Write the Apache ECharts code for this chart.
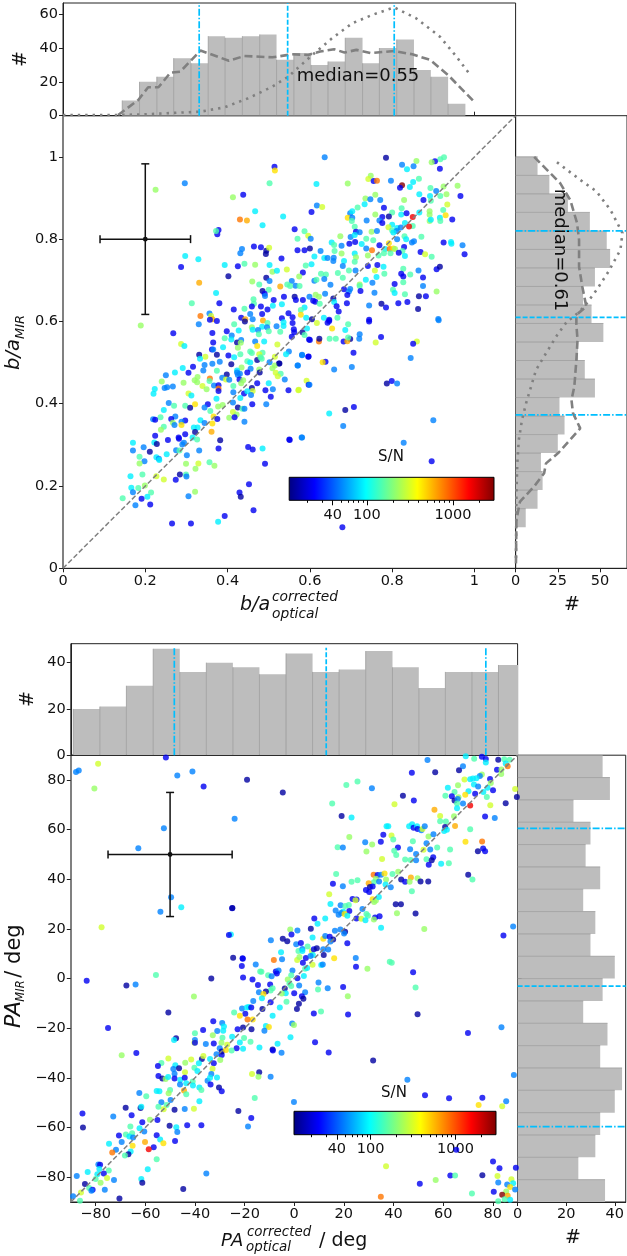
<!DOCTYPE html>
<html>
<head>
<meta charset="utf-8">
<style>
  html, body { margin: 0; padding: 0; background: #fff; }
  #chart { width: 627px; height: 1256px; }
</style>
<script src="https://cdn.jsdelivr.net/npm/echarts@6/dist/echarts.min.js"></script>
</head>
<body>
<div id="chart"></div>
<script>
// axis ratio panel: [b/a optical, b/a MIR, S/N]
const ratioPoints = [
[.636,.999,50],[.785,.998,15],[.859,.990,220],[.926,.999,150],[.917,.994,150],[.904,.989,23],[.896,.987,220],[.824,.981,50],[.852,.977,50],[.836,.970,90],
[.916,.971,23],[.748,.954,220],[.742,.946,300],[.755,.941,23],[.763,.942,800],[.797,.942,50],[.865,.947,150],[.851,.939,90],[.616,.934,90],[.692,.935,220],
[.824,.931,2900],[.819,.925,23],[.843,.927,90],[.959,.930,220],[.925,.928,220],[.893,.924,150],[.866,.909,90],[.892,.905,90],[.907,.917,50],[.917,.905,150],
[.932,.909,220],[.966,.905,23],[.759,.908,220],[.735,.899,220],[.747,.897,50],[.771,.895,50],[.829,.895,220],[.876,.895,23],[.894,.893,150],[.733,.885,90],
[.716,.877,150],[.617,.882,50],[.630,.878,300],[.604,.866,23],[.780,.876,23],[.823,.875,150],[.934,.884,300],[.924,.871,150],[.891,.868,220],[.698,.863,50],
[.703,.868,90],[.800,.865,150],[.822,.860,90],[.835,.863,23],[.866,.865,90],[.891,.859,220],[.930,.858,450],[.535,.855,90],[.692,.852,450],[.703,.852,50],
[.759,.860,220],[.792,.855,15],[.776,.854,23],[.850,.854,1600],[.916,.852,90],[.946,.848,23],[.738,.845,50],[.769,.845,50],[.776,.839,23],[.702,.844,150],
[.831,.839,90],[.800,.835,90],[.891,.844,220],[.917,.844,150],[.894,.847,90],[.850,.832,150],[.841,.831,1600],[.709,.830,150],[.563,.824,23],[.587,.819,150],
[.596,.808,300],[.712,.818,23],[.721,.817,50],[.750,.818,220],[.763,.820,50],[.791,.829,300],[.800,.821,150],[.812,.827,90],[.821,.828,50],[.811,.820,50],
[.803,.816,90],[.674,.807,220],[.699,.805,50],[.709,.810,90],[.737,.801,150],[.754,.797,150],[.830,.807,150],[.871,.806,150],[.812,.800,50],[.834,.800,90],
[.602,.801,50],[.570,.801,150],[.653,.792,90],[.659,.786,150],[.677,.784,50],[.696,.789,23],[.710,.793,23],[.726,.788,90],[.769,.785,23],[.792,.790,450],
[.848,.792,50],[.853,.795,50],[.925,.792,23],[.943,.793,90],[.944,.789,90],[.971,.785,50],[.829,.781,23],[.751,.773,800],[.737,.777,50],[.783,.776,90],
[.794,.776,800],[.803,.777,450],[.807,.776,220],[.825,.771,150],[.600,.777,15],[.570,.773,23],[.587,.773,23],[.626,.771,50],[.660,.771,150],[.780,.766,150],
[.796,.766,150],[.816,.767,23],[.869,.769,23],[.709,.765,90],[.677,.765,220],[.741,.760,220],[.767,.760,150],[.831,.759,90],[.880,.763,300],[.896,.757,150],
[.976,.763,23],[.611,.758,90],[.635,.754,90],[.643,.754,50],[.658,.755,50],[.712,.756,220],[.531,.753,23],[.683,.747,90],[.709,.745,150],[.657,.747,50],
[.590,.736,150],[.604,.739,90],[.680,.735,50],[.741,.735,23],[.764,.737,23],[.779,.733,90],[.544,.726,300],[.583,.719,23],[.695,.724,150],[.711,.724,50],
[.758,.724,300],[.827,.728,150],[.864,.724,50],[.908,.727,23],[.916,.733,15],[.627,.716,150],[.639,.714,150],[.668,.718,150],[.574,.709,220],[.680,.706,150],
[.781,.716,150],[.822,.716,23],[.827,.709,23],[.844,.714,150],[.875,.707,23],[.762,.708,90],[.556,.698,50],[.611,.699,50],[.616,.701,150],[.635,.703,50],
[.736,.701,90],[.752,.694,50],[.806,.691,23],[.827,.695,150],[.565,.687,50],[.545,.690,150],[.552,.686,150],[.575,.686,150],[.650,.689,50],[.721,.690,220],
[.721,.686,150],[.875,.686,50],[.528,.685,600],[.683,.678,23],[.698,.679,50],[.695,.673,50],[.802,.677,150],[.723,.674,23],[.757,.670,50],[.806,.669,90],
[.908,.673,220],[.637,.667,50],[.614,.665,220],[.622,.660,220],[.599,.660,50],[.537,.660,23],[.563,.660,15],[.566,.652,23],[.583,.652,23],[.691,.664,23],
[.657,.656,15],[.831,.666,150],[.865,.661,15],[.882,.661,23],[.608,.650,23],[.613,.648,23],[.624,.643,150],[.659,.647,90],[.690,.644,23],[.744,.639,50],
[.774,.643,15],[.785,.634,23],[.815,.644,23],[.837,.647,23],[.863,.630,15],[.532,.642,90],[.587,.634,90],[.665,.637,23],[.578,.628,150],[.670,.624,23],
[.548,.620,23],[.578,.616,450],[.532,.608,23],[.558,.610,23],[.591,.609,90],[.605,.605,15],[.634,.609,90],[.667,.609,150],[.647,.604,23],[.744,.604,23],
[.912,.606,50],[.514,.976,23],[.515,.967,450],[.502,.936,150],[.296,.936,50],[.225,.920,220],[.438,.908,23],[.413,.902,220],[.467,.868,90],[.430,.848,800],
[.447,.845,600],[.485,.834,90],[.378,.822,23],[.375,.812,23],[.372,.820,150],[.464,.782,23],[.481,.780,23],[.494,.772,15],[.493,.764,15],[.501,.779,300],
[.435,.776,50],[.431,.766,50],[.297,.759,90],[.329,.751,90],[.287,.732,23],[.393,.737,90],[.425,.734,23],[.441,.740,150],[.467,.738,220],[.502,.737,90],
[.509,.721,220],[.520,.723,90],[.402,.710,15],[.494,.706,15],[.331,.694,600],[.460,.697,220],[.477,.690,150],[.502,.698,50],[.485,.674,15],[.500,.677,150],
[.490,.667,23],[.491,.662,50],[.372,.669,90],[.313,.644,150],[.380,.644,23],[.463,.654,150],[.464,.643,150],[.441,.631,150],[.415,.629,23],[.481,.636,23],
[.512,.652,23],[.510,.638,90],[.497,.629,23],[.455,.618,50],[.484,.618,23],[.459,.636,23],[.334,.613,800],[.356,.619,50],[.360,.613,300],[.363,.605,600],
[.433,.609,23],[.443,.605,600],[.461,.605,50],[.189,.590,220],[.357,.604,23],[.374,.601,23],[.486,.602,600],[.442,.600,15],[.416,.593,150],[.330,.593,50],
[.536,.598,90],[.558,.596,23],[.497,.596,150],[.484,.587,90],[.496,.586,50],[.519,.588,50],[.459,.586,220],[.461,.580,90],[.474,.579,50],[.500,.576,150],
[.528,.575,150],[.427,.578,90],[.398,.576,23],[.268,.571,23],[.363,.572,23],[.561,.581,23],[.562,.574,23],[.582,.574,15],[.593,.583,90],[.587,.567,150],
[.536,.589,90],[.476,.569,150],[.556,.563,23],[.410,.566,50],[.393,.559,150],[.409,.556,90],[.433,.555,50],[.598,.556,23],[.489,.551,90],[.467,.551,50],
[.365,.549,23],[.423,.549,15],[.432,.548,220],[.287,.545,300],[.295,.540,90],[.472,.540,450],[.521,.544,300],[.425,.536,220],[.389,.537,90],[.362,.532,23],
[.365,.532,50],[.455,.527,150],[.459,.523,150],[.485,.524,150],[.549,.527,50],[.542,.520,90],[.331,.519,15],[.374,.519,15],[.402,.517,23],[.431,.520,150],
[.477,.520,300],[.581,.518,50],[.596,.514,23],[.346,.514,300],[.416,.513,90],[.333,.509,90],[.472,.506,15],[.480,.513,150],[.483,.509,150],[.515,.514,300],
[.448,.503,150],[.455,.500,90],[.502,.501,50],[.525,.498,15],[.344,.494,50],[.363,.497,50],[.381,.502,50],[.409,.496,15],[.570,.493,50],[.316,.490,23],
[.291,.487,90],[.515,.493,220],[.434,.488,220],[.456,.485,50],[.509,.486,220],[.341,.481,50],[.374,.480,150],[.423,.481,90],[.477,.483,220],[.305,.475,23],
[.272,.476,90],[.423,.476,50],[.430,.473,50],[.448,.476,23],[.478,.476,15],[.250,.469,50],[.398,.471,15],[.387,.463,50],[.425,.470,50],[.517,.475,300],
[.529,.473,150],[.522,.467,300],[.327,.465,220],[.357,.461,800],[.396,.459,300],[.404,.458,50],[.429,.459,23],[.320,.457,220],[.539,.459,50],[.240,.454,220],
[.326,.452,220],[.293,.451,220],[.356,.455,150],[.438,.457,220],[.433,.450,220],[.472,.450,23],[.500,.450,90],[.592,.456,300],[.597,.446,23],[.223,.436,90],
[.247,.438,50],[.253,.440,50],[.267,.442,50],[.339,.443,300],[.349,.435,220],[.367,.444,50],[.378,.445,23],[.378,.437,800],[.378,.431,23],[.414,.443,150],
[.459,.438,15],[.461,.431,300],[.492,.433,23],[.510,.435,50],[.548,.433,23],[.572,.433,300],[.220,.424,90],[.305,.425,300],[.312,.420,90],[.414,.428,50],
[.440,.425,23],[.448,.430,90],[.457,.421,50],[.505,.417,23],[.373,.412,90],[.431,.414,90],[.257,.402,50],[.321,.399,450],[.352,.399,23],[.413,.403,50],
[.460,.399,23],[.494,.399,50],[.270,.395,150],[.297,.395,150],[.309,.390,15],[.344,.391,50],[.377,.393,220],[.388,.397,220],[.425,.391,15],[.436,.388,150],
[.441,.388,50],[.245,.385,90],[.358,.382,150],[.413,.380,300],[.422,.374,220],[.273,.369,50],[.263,.363,23],[.237,.367,150],[.366,.369,450],[.404,.366,220],
[.417,.367,23],[.219,.362,50],[.224,.361,23],[.297,.359,23],[.288,.356,50],[.334,.360,90],[.375,.363,23],[.267,.354,220],[.271,.348,50],[.288,.348,450],
[.344,.353,50],[.363,.352,450],[.441,.356,50],[.245,.344,150],[.318,.342,90],[.327,.342,90],[.238,.337,220],[.361,.332,600],[.321,.331,15],[.224,.322,23],
[.297,.326,23],[.281,.318,23],[.282,.315,23],[.170,.305,90],[.222,.306,90],[.228,.302,15],[.255,.312,23],[.315,.318,90],[.326,.313,150],[.382,.311,15],
[.294,.305,50],[.290,.301,50],[.550,.313,23],[.580,.318,50],[.170,.286,50],[.196,.294,50],[.211,.283,15],[.275,.287,50],[.283,.286,150],[.331,.286,50],
[.378,.291,23],[.450,.295,23],[.461,.289,23],[.485,.291,90],[.252,.277,90],[.301,.275,50],[.186,.271,150],[.227,.270,90],[.233,.266,50],[.234,.263,90],
[.198,.260,50],[.186,.255,220],[.299,.254,220],[.329,.255,300],[.356,.258,150],[.368,.249,220],[.491,.254,23],[.322,.242,220],[.164,.224,90],[.193,.228,150],
[.227,.224,300],[.245,.216,300],[.284,.228,15],[.274,.215,23],[.299,.228,150],[.300,.223,50],[.199,.201,220],[.452,.204,23],[.429,.184,23],[.432,.174,15],
[.305,.175,50],[.321,.186,220],[.145,.170,150],[.166,.196,90],[.183,.195,150],[.170,.185,50],[.214,.184,150],[.205,.174,90],[.191,.169,23],[.176,.153,50],
[.212,.155,23],[.463,.141,23],[.393,.127,23],[.377,.113,90],[.265,.109,23],[.311,.109,23],[.679,.100,23],[.896,.260,23],[.828,.305,50],[.900,.360,50],
[.845,.511,50],[.787,.449,15],[.799,.455,23],[.812,.449,50],[.647,.376,90],[.686,.385,15],[.707,.392,23],[.681,.346,50],[.551,.312,23],[.581,.318,50],
[.659,.483,50],[.702,.489,50],[.706,.524,23],[.638,.502,23],[.631,.501,450],[.599,.446,50],[.573,.434,300],[.571,.493,50],[.526,.498,15],[.597,.515,23],
[.581,.519,50],[.773,.562,23],[.720,.558,50],[.721,.569,50],[.698,.557,15],[.682,.551,23],[.691,.552,600],[.622,.551,800],[.623,.558,15],[.648,.558,150],
[.663,.558,150],[.693,.561,150],[.600,.555,23],[.760,.549,300],[.860,.551,300],[.851,.546,23],[.744,.600,23],[.913,.603,50],[.686,.579,90],[.654,.583,450],
[.693,.593,150],[.643,.597,23],[.647,.601,23],[.617,.596,300]
];

// position angle panel: [PA optical, PA MIR, S/N]
const anglePoints = [
[53.7,88.1,50],[69.1,89.6,90],[72.5,88.6,150],[75.6,89.4,23],[77.2,88.5,23],[77.2,87.1,90],[82.2,88.2,15],[84.6,88.4,150],[86.8,88.2,150],[85.2,86.7,90],
[86,85.5,800],[68,85.5,50],[66.4,83.9,15],[47.4,82.9,23],[56.8,83.1,15],[81.7,84.1,23],[83.5,84.2,220],[75.6,82.2,220],[74.8,81.6,50],[83.4,82.4,220],
[68.6,80.2,300],[70.9,80.3,90],[72,80.6,90],[73.4,80.7,90],[78.9,80.4,23],[25.5,79.4,150],[21,78,150],[66,77.9,220],[72.4,78.2,90],[79.2,78.8,220],
[74.1,77.4,50],[77.9,76.9,90],[31.3,76.7,50],[61.9,76.9,90],[64.6,75.2,150],[70.2,75.5,90],[80.1,75.9,23],[89,76.4,300],[76.2,75.2,90],[43.8,73.7,15],
[60.9,73.7,150],[63.5,73.5,23],[68.9,74.1,450],[72.9,74.5,23],[66.2,73.1,220],[64.6,71.8,15],[65.9,72.4,50],[77.6,73.2,150],[48.2,71.7,23],[89.7,73.2,15],
[15.3,70.5,150],[40.4,70.2,300],[65.6,70.5,150],[68,70.5,50],[70.9,69.7,1600],[79,69.8,300],[85.2,70.6,15],[65.6,68.6,90],[56.5,68,600],[19.1,65.5,15],
[23.1,64.9,90],[58.8,65.5,300],[64.4,65.4,220],[76.9,65.3,23],[80.8,64.7,50],[58.8,63.4,150],[61.1,63.3,150],[37.2,61.4,90],[37.9,61.4,90],[46.3,61.4,90],
[47.5,62.2,90],[48.1,60.8,23],[49.5,61.4,90],[49.7,60.3,23],[51.2,59.8,50],[51.7,60.3,300],[52.6,61.4,50],[60.8,61.1,15],[61.5,60,90],[60.4,59.5,90],
[64.8,61.5,600],[70.9,60.2,150],[35.9,58,23],[39.2,57.6,300],[22.2,57,220],[39.9,56,150],[54.1,57.2,220],[56.1,58.2,50],[34.9,55.1,23],[28.6,54.9,50],
[47.8,55.3,150],[31.4,54,220],[53.3,54.5,50],[69,55.1,450],[75.7,55.2,800],[17.5,52.9,150],[19.6,52.8,50],[41.8,52.8,23],[57.6,52.8,150],[46.7,52.1,50],
[54.8,52,50],[52.1,51.9,300],[62.8,52,150],[76.1,52.4,23],[74,51.3,15],[76.9,51.3,23],[29.1,51.2,220],[40.3,51.5,150],[41.1,49.8,150],[49.1,50.2,50],
[35.4,48.2,300],[56,48.9,23],[44.7,48,150],[46.9,47.8,150],[49.1,47.7,50],[53.3,48.1,150],[55.4,47.7,15],[59.2,46.3,90],[62.3,46.5,150],[54.2,45.9,23],
[16.9,42.1,150],[41.9,43,220],[32,41.8,800],[33.6,41.7,23],[35,41.8,50],[36.4,42.3,450],[39.6,42.1,150],[70.1,41.8,15],[47,40.7,600],[43.1,39.9,15],
[44.7,39,23],[49.7,40.4,220],[37,39.9,220],[32.9,40.2,220],[32.1,38.8,150],[34.2,39.1,50],[30,38.4,600],[23.1,39,150],[25.5,39.6,150],[15.6,38.2,23],
[19.6,37.2,50],[46.5,39,220],[50.9,39.1,15],[54,39.1,15],[71.8,39.9,150],[36.8,37.9,90],[38.9,36.8,50],[30.5,36.9,15],[31.6,37.1,23],[28.9,35.7,23],
[30.2,34.9,23],[47.4,35.2,150],[14.1,34,300],[23.5,32.1,23],[25.1,31.9,23],[24.7,31.6,300],[31.6,32,450],[32.2,30.9,220],[32.9,31.5,220],[34.1,32.9,90],
[14.6,30.1,90],[18.7,29.6,50],[22,29.7,150],[20.6,29.2,150],[40.9,30,15],[43,30,15],[27.5,28,50],[16.7,27.4,50],[19.7,27,90],[22.2,27.2,23],
[18.9,26.4,50],[17.9,25.7,50],[20.3,26,450],[21.4,25.3,90],[29.1,26,150],[29.7,25.3,150],[41.4,26.3,220],[48.9,26.2,15],[8.1,24.2,23],[12.5,24.2,90],
[25.1,24.2,23],[27,24.1,300],[28.7,23.5,90],[32.6,24.6,23],[34.4,25.1,23],[32.1,23.8,220],[9.4,22.1,90],
[-25,28.3,23],[-25.5,17.8,90],[-26.3,17.6,23],[-1.6,19.8,220],[1.3,19.4,50],[-9.4,15.5,50],[-4.6,16.1,15],[-2.8,15,15],[-1.1,17.8,23],[6.7,20.1,15],
[7.4,16.6,90],[11.7,16.1,450],[12.5,17.2,50],[14.3,16.9,23],[15.7,15.8,15],[16.4,19.3,50],[18.6,19.8,50],[20.5,18.9,15],[20.1,18.2,50],[35,20.5,90],
[21.4,14.2,23],[.8,13.8,50],[2.7,14.3,23],[14.6,14.9,50],[-5.3,10.6,90],[1.7,11.1,150],[3.3,11.9,50],[5.4,12.9,150],[3.3,11.1,90],[7.1,11.1,300],
[7.9,11.8,23],[9.1,12.2,15],[11.7,11.8,50],[13.7,11.7,50],[11.9,9.5,15],[7.5,9.5,90],[-24.6,8.4,15],[-20.8,8.2,23],[-8.2,7.5,800],[-4.9,7.8,50],
[1.2,7.5,300],[2.1,8.7,220],[4.7,8.3,23],[3.5,6.4,23],[6.6,9.1,50],[16.1,8.2,450],[24.8,8.3,50],[24.9,4.8,23],[29.5,4,220],[38.5,6.8,150],
[39.3,6.4,150],[-21.1,5.1,23],[-15.5,5.7,50],[7.4,5.6,300],[10.9,5.5,90],[11.5,5.7,50],[-13.7,2.9,150],[-13.2,2.8,150],[-7.4,2.9,23],[-6.3,3.3,50],
[-7,2.1,23],[-.7,3.3,50],[4.4,4,150],[5.2,4.3,90],[-10.5,1.3,150],[-9.1,.9,50],[-1.2,1.3,150],[3.9,1,90],[-33.4,0,15],[-20.6,.4,23],
[-16.8,-.4,23],[1.3,.1,23],[-2.6,-.4,220],[-14.6,-2.6,23],[-9.7,-2.4,23],[-1.9,-2,150],[-1.2,-3,150],[9.8,-1.6,50],[2,-2.8,50],[-8.7,-3.9,150],
[-9.5,-4.8,150],[-11.4,-5.2,15],[-14.2,-5.5,50],[-12.4,-6.2,450],[-3.8,-4,15],[-3.4,-5.9,90],[-5,-6,220],[9.6,-4.4,150],[13.5,-3.9,50],[19.7,-3.4,23],
[0,-5.9,23],[4.4,-5.5,50],[3.1,-7.1,23],[3.7,-8.1,15],[-13,-7.9,90],[-16.5,-9,50],[21.6,-7.1,220],[-3.1,-9.3,150],[1.9,-10.1,15],[-9.5,-9.5,23],
[-12.8,-12.2,15],[-21,-12,50],[-19.1,-11.6,90],[-18.3,-11.4,90],[-17.3,-11.6,23],[-5.8,-11.6,90],[1.1,-12.2,15],[10.8,-13.3,150],[7.9,-14.1,23],[21.7,-14.5,23],
[-24.2,-13.7,150],[-19.7,-14.2,23],[-21.9,-15,450],[-16.7,-16.5,450],[-18.8,-16.5,800],[-8.7,-15,90],[-32.6,-17.2,23],[-29,-17.9,50],[-.8,-18.1,50],[-.1,-18.7,220],
[-36.7,-20.7,23],[-31,-21.1,50],[-28.6,-21,90],[-28.3,-19.3,90],[-20.6,-19.7,15],[-17.2,-20.4,15],[-22.8,-20.4,23],[-11.4,-19.1,90],[-10.2,-19.5,450],[-12,-21,50],
[-32.8,-22.8,220],[-25,-23.4,90],[-28.9,-23.8,150],[-20.2,-23.9,150],[-1.5,-23.6,90],[8.4,-25.6,23],[-35.6,-26.3,50],[-32.4,-26.1,23],[-29.3,-25.8,220],[-27,-26.6,300],
[-21.9,-25.7,90],[-17.6,-25.4,150],[-6.7,-26.2,90],[-14,-27.8,90],[-23.2,-28.1,23],[-20.6,-28.3,90],[-30,-28.1,50],[-8.7,-28.6,15],
[-87.9,83.2,50],[-86.8,83.8,50],[-79,86.6,300],[-80.5,76.6,220],[-51.7,89.1,23],[-47.1,81.8,50],[-41,83.4,50],[-36.5,77.4,23],[-19,80.1,15],[-4.6,75,15],
[-24,64.4,50],[-52.5,60.6,50],[-62.8,52.5,50],[-49.6,32.8,50],[-53.9,26.9,50],[-45.5,28.7,90],[-24.9,28.4,15],[-77.6,20.7,300],[88.2,21,50],[84.3,17.4,23],[52.4,20,220],
[47.9,2.6,23],[48.9,-3.6,150],[49.7,-14.4,15],[70,-21.9,23],[83.5,-19.6,50],[88.5,-38.8,50],[45.6,-40.8,50],[52.7,-47,23],[62.4,-48.2,23],[75.8,-48,23],
[74.3,-50.9,450],[83.8,-51.4,300],[85.4,-49.4,50],[65.3,-69,23],[80.1,-73.7,23],[82.7,-76.4,23],[89.3,-76.2,23],[81.9,-79.5,300],[87.5,-80.8,300],[82.2,-82.1,50],
[85.8,-83,50],[88.2,-82.4,90],[87,-84,450],[89,-85,50],[80.4,-85.9,23],[85.4,-85.8,220],[83.8,-87.1,2900],[86,-87.5,600],[82.2,-89.7,150],[84.8,-88.9,150],
[87,-89.1,90],[75.8,-79.2,15],[62.9,-79.3,23],[64.8,-79.3,150],[57,-81.1,220],[50.6,-82.6,23],[71.6,-86.6,150],[37,-75.6,300],[34.9,-87.9,800],[31.8,-33,15],
[-.1,-49.7,50],[-15.9,-48.1,150],[-22.5,-53.3,15],[-17.3,-56.2,23],[-18.6,-59.6,50],[13.9,-29.8,23],[-5.1,-29.9,50],[-8.6,-29,23],[-9.5,-39.5,50],[-14.1,-37.7,15],
[-17,-38.4,300],[-14.4,-39.5,220],[-83.6,-.9,23],[-67.6,-2.8,15],[-63.9,-2.4,50],[-55.7,1.5,150],[-50.7,-13.7,15],[-75,-19.9,23],[-40.4,-7.2,220],[-20.7,8,23],
[-47.6,-24,15],[-48.4,-24.7,90],[-40,-22,150],[-40,-24.7,50],[-40.2,-25.8,300],[-40,-25.8,23],[-69.5,-30.9,220],[-63.6,-30,23],[-50.7,-32.2,300],[-53.5,-34,150],
[-54.9,-35.2,23],[-47.9,-34.9,90],[-48.7,-36.4,50],[-46.4,-36.1,15],[-43.9,-33.9,220],[-41.5,-32.6,300],[-37.2,-32.4,15],[-36.6,-31.2,300],[-33.9,-32.4,90],[-31.3,-30.5,50],
[-29.2,-30.8,23],[-29.2,-29.4,15],[-27.5,-28.8,450],[-25.2,-29,150],[-29.8,-32.8,220],[-32.4,-34.1,23],[-38.4,-34.1,90],[-40.2,-35.9,150],[-44,-37.7,300],[-39,-37.2,90],
[-32.9,-36.3,300],[-54.7,-39.2,23],[-53.1,-40.2,15],[-51.8,-40.4,220],[-50.8,-39.6,90],[-48.2,-38.3,50],[-48.2,-40.2,23],[-45.9,-40.8,90],[-44.1,-39.9,23],[-40.9,-41.5,150],
[-43.5,-42.2,90],[-46,-42.7,50],[-40.8,-43.1,90],[-34.9,-41.2,50],[-33.4,-38.4,50],[-33.9,-39.9,90],[-31.1,-39.8,90],[-33.7,-42.7,23],[-38.2,-43.9,90],[-37.4,-44.9,150],
[-30.3,-43.9,15],[-29.2,-45.4,23],[-62.4,-46.1,50],[-55.4,-45.3,90],[-54.3,-45.4,90],[-50,-44.9,150],[-50.6,-46.2,220],[-44.4,-45.1,600],[-43.5,-46.6,150],[-59.6,-47.4,150],
[-49.8,-48.9,50],[-53.5,-49.8,50],[-38.2,-49.4,90],[-54.7,-51.6,150],[-67.9,-52,15],[-61.9,-52.1,15],[-61.6,-51.6,90],[-51.4,-50.9,150],[-52.6,-52.6,300],[-48.2,-52.8,15],
[-44.1,-52.5,50],[-40.4,-52.4,300],[-85.3,-54.3,23],[-72.9,-55.6,50],[-65.5,-55.1,23],[-61.2,-57.9,23],[-58.1,-56.9,220],[-55.1,-57,23],[-85.1,-60,15],[-66,-59.6,150],
[-62.3,-60.3,90],[-60.4,-61.6,50],[-50.2,-59.3,15],[-47.5,-59.9,90],[-47.1,-61.8,50],[-43.1,-59.1,23],[-37.4,-59.1,23],[-70.6,-63.2,23],[-67.8,-62.8,150],[-65.3,-62.3,150],
[-66.4,-63.6,90],[-64.9,-64,50],[-55.4,-63.1,23],[-54,-64.8,90],[-48,-65.4,23],[-60.1,-65.8,600],[-74.6,-66.5,90],[-69.5,-65.8,50],[-65.1,-67.3,450],[-52.7,-66.3,450],
[-56.6,-67.9,23],[-58.6,-68.7,1600],[-71.8,-68.9,50],[-73.3,-70.1,800],[-65.9,-69.7,90],[-66.8,-70.8,15],[-68.2,-71.3,150],[-55.4,-72.8,150],[-78.9,-74.9,50],[-78.2,-75,23],
[-78.5,-76.7,90],[-59,-76.8,90],[-74.7,-77.3,150],[-83.2,-77.9,90],[-35.4,-78.5,50],[-87.6,-79.5,50],[-79.3,-78.8,90],[-76.7,-78.5,23],[-72.6,-81.1,50],[-75.4,-80.3,300],
[-80,-80.7,150],[-78,-82.2,220],[-61.6,-80.7,90],[-61.2,-82.2,15],[-84.3,-82.7,15],[-82.6,-84.4,150],[-81.2,-85.1,23],[-81.7,-85.5,50],[-76.3,-85.1,50],[-44.7,-84.8,15],
[-85.9,-86.2,300],[-89.1,-87.7,50],[-70.4,-88.6,15],[-86.3,-89.5,150]
];

// histograms: bin edges plus counts
const ratioTopEdges = [.144,.186,.228,.269,.311,.353,.394,.436,.478,.519,.561,.603,.644,.686,.728,.769,.811,.853,.894,.936,.978];
const ratioTopCounts = [9,20,23,34,31,47,46,47,48,33,37,30,32,46,31,40,45,27,23,7];
const ratioSideEdges = [1,.955,.91,.865,.82,.775,.73,.685,.64,.595,.55,.505,.46,.415,.37,.325,.28,.235,.19,.145,.1];
const ratioSideCounts = [13,20,31,44,54,56,47,40,45,52,37,41,47,26,29,25,15,16,13,6];
const angleTopEdges = [-89,-78.3,-67.6,-56.8,-46.1,-35.4,-24.7,-14,-3.3,7.4,18.1,28.8,39.6,50.2,60.9,71.6,82.3,93];
const angleTopCounts = [20,21,30,46,36,40,38,35,44,36,37,45,38,29,36,36,39];
const angleSideEdges = [90,81,72,63,54,45,36,27,18,9,0,-9,-18,-27,-36,-45,-54,-63,-72,-81,-90];
const angleSideCounts = [35,38,23,30,28,34,27,32,30,40,35,27,37,34,43,40,34,32,25,36];

// model curves over the b/a histograms
const topDashed = [[.134,.4],[.183,9.3],[.207,16.8],[.232,16.8],[.261,25.4],[.285,26],[.334,38.5],[.403,32.5],[.441,35.3],[.509,34.5],[.557,36.3],[.596,35.9],[.625,37.9],[.659,39.3],[.684,37.3],[.713,38.9],[.747,37],[.805,38.2],[.849,36.3],[.892,33],[.936,24],[.999,8.3]];
const topDotted = [[0,.4],[.129,.4],[.197,.8],[.334,2.4],[.392,4.9],[.45,10.3],[.509,17.2],[.547,23],[.606,35.9],[.654,45.8],[.703,54.6],[.752,59.6],[.805,64],[.858,57.6],[.916,46.7],[.956,35],[.99,24]];
const sideDashed = [[11,1],[26.4,.936],[32.4,.895],[36.4,.839],[37.6,.798],[37.6,.733],[39.5,.685],[41.9,.636],[36,.616],[36,.592],[36.7,.555],[36,.506],[34.8,.442],[33.1,.409],[34,.377],[38.3,.34],[25.2,.28],[18,.255],[16.9,.231],[11,.199],[2.6,.162],[.5,.118],[.2,.012]];
const sideDotted = [[24.5,.987],[38.3,.944],[47.9,.916],[56.2,.871],[63.3,.815],[62.1,.774],[55,.721],[47.9,.676],[40.7,.636],[33.6,.608],[31.2,.604],[24,.563],[16.9,.515],[12.1,.482],[8.6,.434],[6.2,.401],[3.8,.361],[1.9,.312],[1,.255],[.5,.182],[.2,.012]];

// percentile and median markers [value, line type]
const ratioTopMarks = [[.331,'dd'],[.546,'d'],[.805,'dd']];
const ratioSideMarks = [[.82,'dd'],[.61,'d'],[.373,'dd']];
const angleTopMarks = [[-48.3,'dd'],[12.9,'d'],[77.2,'dd']];
const angleSideMarks = [[60.5,'dd'],[-3,'d'],[-59.6,'dd']];

// typical error crosses [x, y, xerr, yerr]
const ratioError = [.2, .8, .11, .183];
const angleError = [-50, 50, 25, 25];

const ratioTicks = [0, .2, .4, .6, .8, 1];
const angleTicks = [-80, -60, -40, -20, 0, 20, 40, 60, 80];
const snMajorTicks = [40, 100, 1000];
const snMinorTicks = [20, 30, 50, 60, 70, 80, 90, 200, 300, 400, 500, 600, 700, 800, 900, 2000];
const jetColors = ['#00007f', '#0000ff', '#007fff', '#00ffff', '#7fff7f', '#ffff00', '#ff7f00', '#ff0000', '#7f0000'];
const SN_MIN = 12.5, SN_MAX = 3000;

const FONT = 'DejaVu Sans';
const LINE = '#222';
const GRAY = '#808080';
const CYAN = '#00bfff';
const dashTypes = { d: [5, 2], dd: [7, 2, 1.5, 2] };

const chart = echarts.init(document.getElementById('chart'), null, { renderer: 'canvas' });

const grids = [
  { left: 63, top: 115.7, width: 452.6, height: 452.6 },
  { left: 63, top: 3, width: 452.6, height: 112.7 },
  { left: 515.6, top: 115.7, width: 111.4, height: 452.6 },
  { left: 289.2, top: 477.3, width: 204.8, height: 23, bar: true },
  { left: 70.8, top: 755.2, width: 446.8, height: 446.8 },
  { left: 70.8, top: 643.7, width: 446.8, height: 111.5 },
  { left: 517.6, top: 755.2, width: 109.4, height: 446.8 },
  { left: 294, top: 1111.3, width: 202, height: 23.4, bar: true }
].map(g => {
  const bar = g.bar;
  delete g.bar;
  return Object.assign(g, {
    show: true,
    borderColor: bar ? '#000' : LINE,
    borderWidth: 1,
    backgroundColor: bar
      ? new echarts.graphic.LinearGradient(0, 0, 1, 0, jetColors.map((c, i) => ({ offset: i / (jetColors.length - 1), color: c })))
      : 'transparent'
  });
});

const minus = v => String(v).replace('-', '\u2212');

// value axis; ticks listed explicitly because the PA range does not start on a tick
function axis(gridIndex, min, max, ticks, opt) {
  opt = opt || {};
  return {
    type: 'value', gridIndex, min, max,
    axisLine: { show: true, onZero: false, lineStyle: { color: opt.spine || LINE, width: opt.spine ? 2 : 1 } },
    axisTick: { show: true, inside: !!opt.inside, length: 4, customValues: ticks, lineStyle: { color: LINE, width: 1 } },
    axisLabel: opt.noLabel ? { show: false } : {
      show: true, customValues: ticks, margin: 5, color: '#111', fontFamily: FONT, fontSize: 14.5, hideOverlap: false,
      formatter: minus
    },
    splitLine: { show: false }
  };
}

function snAxis(gridIndex, ticks, len, labels) {
  return {
    type: 'log', gridIndex, min: SN_MIN, max: SN_MAX, logBase: 10, position: 'bottom',
    axisLine: { show: false },
    axisTick: { show: true, length: len, customValues: ticks, lineStyle: { color: '#000', width: 1 } },
    axisLabel: labels ? { show: true, customValues: ticks, margin: 7, color: '#111', fontFamily: FONT, fontSize: 14.5, formatter: v => String(Math.round(v)) } : { show: false },
    splitLine: { show: false }, minorTick: { show: false }
  };
}

const hiddenY = g => ({ type: 'value', gridIndex: g, min: 0, max: 1, show: false });

const xAxes = [
  axis(0, 0, 1.1, ratioTicks),
  axis(1, 0, 1.1, ratioTicks, { inside: true, noLabel: true }),
  axis(2, 0, 66, [0, 25, 50]),
  snAxis(3, snMajorTicks, 5, true),
  axis(4, -90, 90, angleTicks),
  axis(5, -90, 90, angleTicks, { inside: true, noLabel: true }),
  axis(6, 0, 44.5, [0, 20, 40]),
  snAxis(7, snMajorTicks, 5, true),
  snAxis(3, snMinorTicks, 2.5, false),
  snAxis(7, snMinorTicks, 2.5, false)
];
const yAxes = [
  axis(0, 0, 1.1, ratioTicks, { spine: GRAY }),
  axis(1, 0, 66.6, [0, 20, 40, 60]),
  axis(2, 0, 1.1, ratioTicks, { inside: true, noLabel: true }),
  hiddenY(3),
  axis(4, -90, 90, angleTicks, { spine: GRAY }),
  axis(5, 0, 48.2, [0, 20, 40]),
  axis(6, -90, 90, angleTicks, { inside: true, noLabel: true }),
  hiddenY(7)
];

function scatter(axisIndex, points) {
  return {
    type: 'scatter', xAxisIndex: axisIndex, yAxisIndex: axisIndex, symbolSize: 6, clip: true, z: 4,
    data: points.map(p => [p[0], p[1], Math.log10(p[2])])
  };
}

function line(axisIndex, data, color, width, dash, z) {
  return {
    type: 'line', xAxisIndex: axisIndex, yAxisIndex: axisIndex, data, showSymbol: false, symbol: 'none',
    clip: true, silent: true, z: z || 5, animation: false,
    lineStyle: { color, width, type: dash }
  };
}

function hist(axisIndex, edges, counts, horizontal) {
  return {
    type: 'custom', xAxisIndex: axisIndex, yAxisIndex: axisIndex, clip: true, z: 2, silent: true,
    encode: horizontal ? { x: 2, y: [0, 1] } : { x: [0, 1], y: 2 },
    data: counts.map((c, i) => [edges[i], edges[i + 1], c]),
    renderItem: (params, api) => {
      const a = api.value(0), b = api.value(1), c = api.value(2);
      const p0 = horizontal ? api.coord([0, a]) : api.coord([a, 0]);
      const p1 = horizontal ? api.coord([c, b]) : api.coord([b, c]);
      const x = Math.min(p0[0], p1[0]), y = Math.min(p0[1], p1[1]);
      const w = Math.abs(p1[0] - p0[0]), h = Math.abs(p1[1] - p0[1]);
      // thin separator on the leading edge only, the bars have no outline on top
      const edge = horizontal ? { x1: x, y1: y, x2: x + w, y2: y } : { x1: x, y1: y, x2: x, y2: y + h };
      return {
        type: 'group',
        children: [
          { type: 'rect', shape: { x, y, width: w, height: h }, style: { fill: '#bdbdbd' } },
          { type: 'line', shape: edge, style: { stroke: '#9a9a9a', lineWidth: 0.8 } }
        ]
      };
    }
  };
}

function errorCross(axisIndex, err) {
  return {
    type: 'custom', xAxisIndex: axisIndex, yAxisIndex: axisIndex, z: 6, silent: true,
    data: [err],
    renderItem: (params, api) => {
      const x = api.value(0), y = api.value(1), ex = api.value(2), ey = api.value(3);
      const l = api.coord([x - ex, y]), r = api.coord([x + ex, y]), t = api.coord([x, y + ey]), b = api.coord([x, y - ey]), c = api.coord([x, y]);
      const seg = (x1, y1, x2, y2) => ({ type: 'line', shape: { x1, y1, x2, y2 }, style: { stroke: '#111', lineWidth: 1.5 } });
      return {
        type: 'group',
        children: [
          seg(l[0], l[1], r[0], r[1]), seg(t[0], t[1], b[0], b[1]),
          seg(l[0], l[1] - 4, l[0], l[1] + 4), seg(r[0], r[1] - 4, r[0], r[1] + 4),
          seg(t[0] - 4, t[1], t[0] + 4, t[1]), seg(b[0] - 4, b[1], b[0] + 4, b[1]),
          { type: 'circle', shape: { cx: c[0], cy: c[1], r: 2.4 }, style: { fill: '#111' } }
        ]
      };
    }
  };
}

const vMarks = (axisIndex, marks, top) => marks.map(m => line(axisIndex, [[m[0], 0], [m[0], top]], CYAN, 1.7, dashTypes[m[1]], 6));
const hMarks = (axisIndex, marks, right) => marks.map(m => line(axisIndex, [[0, m[0]], [right, m[0]]], CYAN, 1.7, dashTypes[m[1]], 6));

const series = [
  scatter(0, ratioPoints),
  scatter(4, anglePoints),
  line(0, [[0, 0], [1.1, 1.1]], GRAY, 1.5, [5, 2.5], 5),
  line(4, [[-90, -90], [90, 90]], GRAY, 1.5, [5, 2.5], 5),
  errorCross(0, ratioError),
  errorCross(4, angleError),
  hist(1, ratioTopEdges, ratioTopCounts, false),
  hist(2, ratioSideEdges, ratioSideCounts, true),
  hist(5, angleTopEdges, angleTopCounts, false),
  hist(6, angleSideEdges, angleSideCounts, true),
  line(1, topDashed, GRAY, 2.6, [8, 4]),
  line(1, topDotted, GRAY, 2.6, [2.4, 5]),
  line(2, sideDashed, GRAY, 2.6, [8, 4]),
  line(2, sideDotted, GRAY, 2.6, [2.4, 5]),
  ...vMarks(1, ratioTopMarks, 66.6),
  ...hMarks(2, ratioSideMarks, 66),
  ...vMarks(5, angleTopMarks, 46.5),
  ...hMarks(6, angleSideMarks, 44.5)
];

// axis titles and annotations, with mathtext style sub and superscripts
function label(text, x, y, size, opt) {
  opt = opt || {};
  return {
    type: 'text', x, y, rotation: opt.rotate ? Math.PI / 2 : (opt.down ? -Math.PI / 2 : 0), z: 20, silent: true,
    style: {
      text, fill: '#111', fontFamily: FONT, fontSize: size, fontStyle: opt.italic ? 'italic' : 'normal',
      textAlign: opt.align || 'center', textVerticalAlign: 'middle'
    }
  };
}

const graphic = [
  label('#', 21, 59, 19, { rotate: true }),
  label('#', 572, 605, 19),
  label('#', 28, 699, 19, { rotate: true }),
  label('#', 573, 1238, 19),
  label('median=0.55', 358, 76, 18),
  label('median=0.61', 560, 250, 18, { down: true }),
  label('S/N', 391, 457, 15),
  label('S/N', 394, 1093, 15),
  label('b/a', 240, 605, 19, { italic: true, align: 'left' }),
  label('corrected', 272, 597, 13.8, { italic: true, align: 'left' }),
  label('optical', 272, 614, 13.8, { italic: true, align: 'left' }),
  label('b/a', 14, 354.5, 19.5, { italic: true, rotate: true }),
  label('MIR', 21, 327, 13, { italic: true, rotate: true }),
  label('PA', 221, 1241, 18, { italic: true, align: 'left' }),
  label('corrected', 247, 1233, 13.4, { italic: true, align: 'left' }),
  label('optical', 246, 1248, 13.4, { italic: true, align: 'left' }),
  label('/ deg', 319, 1241, 19, { align: 'left' }),
  label('PA', 14, 1014.5, 22, { italic: true, rotate: true }),
  label('MIR', 21, 991, 11.5, { italic: true, rotate: true }),
  label('/ deg', 15, 951, 21, { rotate: true })
];

chart.setOption({
  animation: false,
  backgroundColor: '#fff',
  grid: grids,
  xAxis: xAxes,
  yAxis: yAxes,
  visualMap: {
    show: false, seriesIndex: [0, 1], dimension: 2,
    min: Math.log10(SN_MIN), max: Math.log10(SN_MAX),
    inRange: { color: jetColors }
  },
  series,
  graphic
});
</script>
</body>
</html>
